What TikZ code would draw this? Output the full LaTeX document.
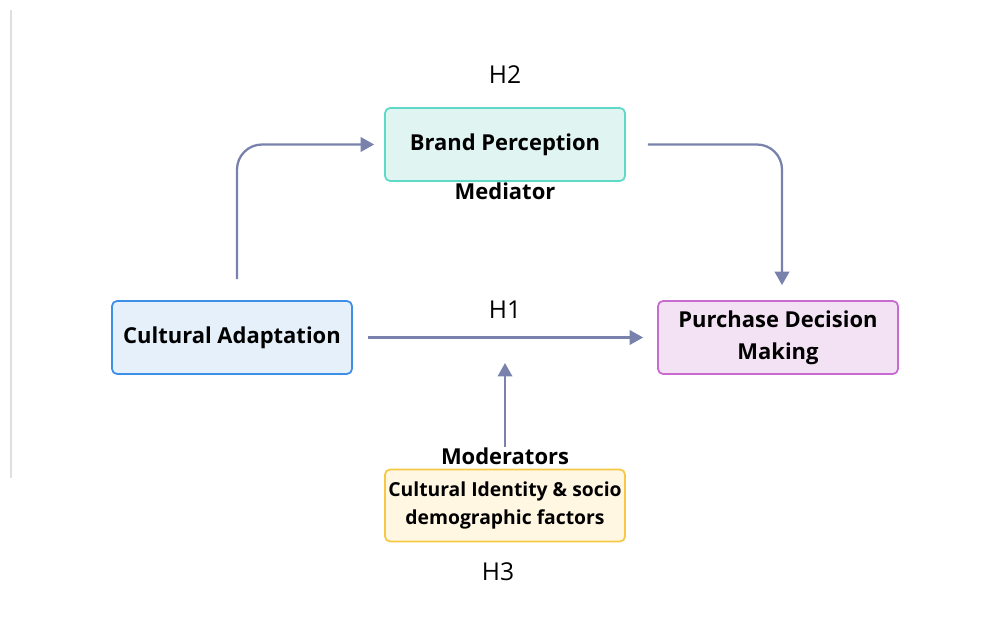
\documentclass[tikz,border=0pt]{standalone}
\usepackage{fontspec}
\setmainfont{Open Sans}
\usepackage{tikz}
\usetikzlibrary{arrows.meta,positioning,calc}

\definecolor{arrowblue}{RGB}{120,130,172}
\definecolor{tealfill}{RGB}{224,245,242}
\definecolor{tealline}{RGB}{94,217,200}
\definecolor{bluefill}{RGB}{229,240,251}
\definecolor{blueline}{RGB}{61,143,232}
\definecolor{pinkfill}{RGB}{243,226,243}
\definecolor{pinkline}{RGB}{200,107,208}
\definecolor{yelfill}{RGB}{255,247,226}
\definecolor{yelline}{RGB}{247,200,67}

\begin{document}
\begin{tikzpicture}[
x=0.02cm, y=-0.02cm,
font=\fontsize{12.5}{18}\selectfont,
box/.style={draw, rounded corners=0.1cm, line width=1pt, align=center, minimum width=4.8cm, minimum height=1.46cm, font=\bfseries\fontsize{12.5}{18}\selectfont},
tag/.style={inner sep=0pt, font=\bfseries\fontsize{12.5}{18}\selectfont},
hlabel/.style={inner sep=0pt, font=\fontsize{14}{16}\selectfont},
arr/.style={-{Triangle[length=0.27cm, width=0.29cm]}, arrowblue, line width=1.3pt}
]
\useasboundingbox (0,0) rectangle (983,642);

% Edge of the page
\draw[gray!25, line width=1pt] (11,10) -- (11,478);

% Constructs
\node[box, fill=tealfill, draw=tealline] (bp) at (505,144.5) {Brand Perception};
\node[box, fill=bluefill, draw=blueline] (ca) at (232,337.5) {Cultural Adaptation};
\node[box, fill=pinkfill, draw=pinkline] (pd) at (778,337.5) {Purchase Decision\\Making};
\node[box, fill=yelfill, draw=yelline, minimum height=1.44cm, inner xsep=1pt,
      font=\bfseries\fontsize{11}{16}\selectfont] (mod) at (505,505.5)
{Cultural Identity \& socio\\demographic factors};

% Labels
\node[hlabel] (h2) at (505,75) {H2};
\node[hlabel] (h1) at (505,310) {H1};
\node[hlabel] (h3) at (498,572) {H3};
\node[tag] (medlbl) at (505,191) {Mediator};
\node[tag] (modlbl) at (505,456) {Moderators};

% Direct effect
\draw[arr, shorten <=0.3cm, shorten >=0.28cm] (ca.east) -- (pd.west);

% Mediation path
\draw[arr, rounded corners=0.5cm, shorten <=0.42cm, shorten >=0.2cm]
([xshift=0.1cm]ca.north) |- (bp.west);
\draw[arr, rounded corners=0.5cm, shorten <=0.44cm, shorten >=0.3cm]
(bp.east) -| ([xshift=0.08cm]pd.north);

% Moderation onto H1
\path (ca.east) -- (pd.west) coordinate[midway] (h1mid);
\draw[arr, shorten >=0.51cm] (modlbl.north) -- (h1mid);

\end{tikzpicture}
\end{document}
